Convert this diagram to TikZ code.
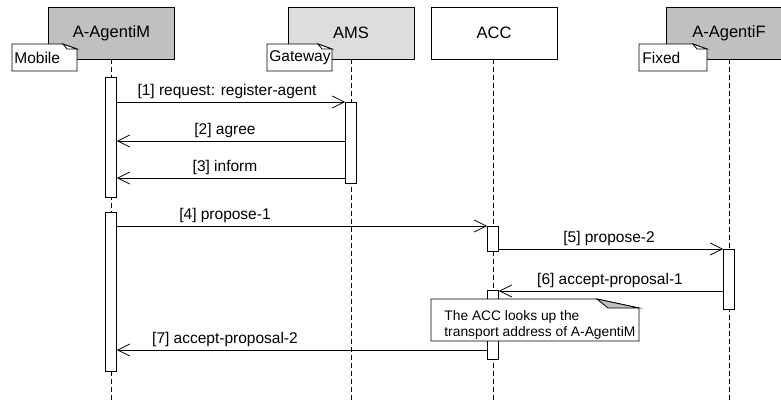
\documentclass[tikz,border=0pt]{standalone}
\usepackage{fontspec}
\setmainfont{Liberation Sans}
\usetikzlibrary{arrows.meta}
\definecolor{headdark}{RGB}{192,192,192}
\definecolor{headlight}{RGB}{221,221,221}
\begin{document}
\begin{tikzpicture}[x=1pt,y=-1pt,
  line width=0.8pt,
  head/.style={draw, minimum width=126pt, minimum height=52pt, inner sep=0pt,
    font=\fontsize{16.5}{18}\selectfont},
  lifeline/.style={dash pattern=on 5pt off 3pt},
  act/.style={draw, fill=white, minimum width=11pt, inner sep=0pt, anchor=north},
  msg/.style={-{Straight Barb[length=12pt,width=12pt,line width=0.8pt]}},
  lbl/.style={font=\fontsize{15.5}{17}\selectfont, anchor=base, inner sep=0pt},
  notetxt/.style={font=\fontsize{15.5}{17}\selectfont, anchor=west, inner sep=0pt},
  noteshape/.style={draw, fill=white, line join=miter}
]
\useasboundingbox (0,0) rectangle (781,400);
\clip (0,0) rectangle (781,400);

% lifeline heads
\node[head, fill=headdark]  (agM) at (111.5,33) {A-AgentiM};
\node[head, fill=headlight] (ams) at (351,33)   {AMS};
\node[head, fill=white]     (acc) at (494,33)   {ACC};
\node[head, fill=headdark]  (agF) at (729,33)   {A-AgentiF};

% lifeline ends
\coordinate (endM) at (111,400);
\coordinate (endA) at (351,400);
\coordinate (endC) at (493,400);
\coordinate (endF) at (729,400);

\draw[lifeline] (agM.south -| endM) -- (endM);
\draw[lifeline] (ams.south -| endA) -- (endA);
\draw[lifeline] (acc.south -| endC) -- (endC);
\draw[lifeline] (agF.south -| endF) -- (endF);

% stereotype notes on the heads
\draw[noteshape] (12,44) -- (63,44) -- (77,49) -- (77,71) -- (12,71) -- cycle;
\draw[noteshape] (63,44) -- (67,49) -- (77,49) -- cycle;
\node[notetxt] (nMob) at (14,58) {Mobile};

\draw[noteshape] (267,44) -- (318,44) -- (332,49) -- (332,71) -- (267,71) -- cycle;
\draw[noteshape] (318,44) -- (322,49) -- (332,49) -- cycle;
\node[notetxt] (nGw) at (269,58) {Gateway};

\draw[noteshape] (639,44) -- (693,44) -- (707,49) -- (707,71) -- (639,71) -- cycle;
\draw[noteshape] (693,44) -- (697,49) -- (707,49) -- cycle;
\node[notetxt] (nFix) at (642,58) {Fixed};

% activation bars
\node[act, minimum height=120pt] (m1) at (111,77)  {};
\node[act, minimum height=159pt] (m2) at (111,212) {};
\node[act, minimum height=81pt]  (a1) at (351,102) {};
\node[act, minimum height=25pt]  (c1) at (493,226) {};
\node[act, minimum height=69pt]  (c2) at (493,290) {};
\node[act, minimum height=60pt]  (f1) at (729,249) {};

% messages
\draw[msg] (m1.east |- a1.north) -- (a1.north west);
\draw[msg] (a1.west |- 0,141) -- (m1.east |- 0,141);
\draw[msg] (a1.west |- 0,178) -- (m1.east |- 0,178);
\draw[msg] (m2.east |- c1.north) -- (c1.north west);
\draw[msg] (c1.east |- f1.north) -- (f1.north west);
\draw[msg] (f1.west |- 0,291) -- (c2.east |- 0,291);
\draw[msg] (c2.west |- 0,350) -- (m2.east |- 0,350);

\node[lbl] (l1) at (227,95.5)  {[1] request: register-agent};
\node[lbl] (l2) at (225,134.5) {[2] agree};
\node[lbl] (l3) at (225,171.5) {[3] inform};
\node[lbl] (l4) at (225,219.5) {[4] propose-1};
\node[lbl] (l5) at (609,242.5) {[5] propose-2};
\node[lbl] (l6) at (610,284.5) {[6] accept-proposal-1};
\node[lbl] (l7) at (225,343.5) {[7] accept-proposal-2};

% comment on the ACC
\draw[noteshape] (431,299) -- (597,299) -- (639,308) -- (639,341) -- (431,341) -- cycle;
\draw[noteshape, fill=headdark] (597,299) -- (608,308) -- (639,308) -- cycle;
\node[anchor=north west, inner sep=0pt, align=left,
  font=\fontsize{13.8}{16.5}\selectfont] (cmt) at (444,310)
  {The ACC looks up the\\transport address of A-AgentiM};
\end{tikzpicture}
\end{document}
